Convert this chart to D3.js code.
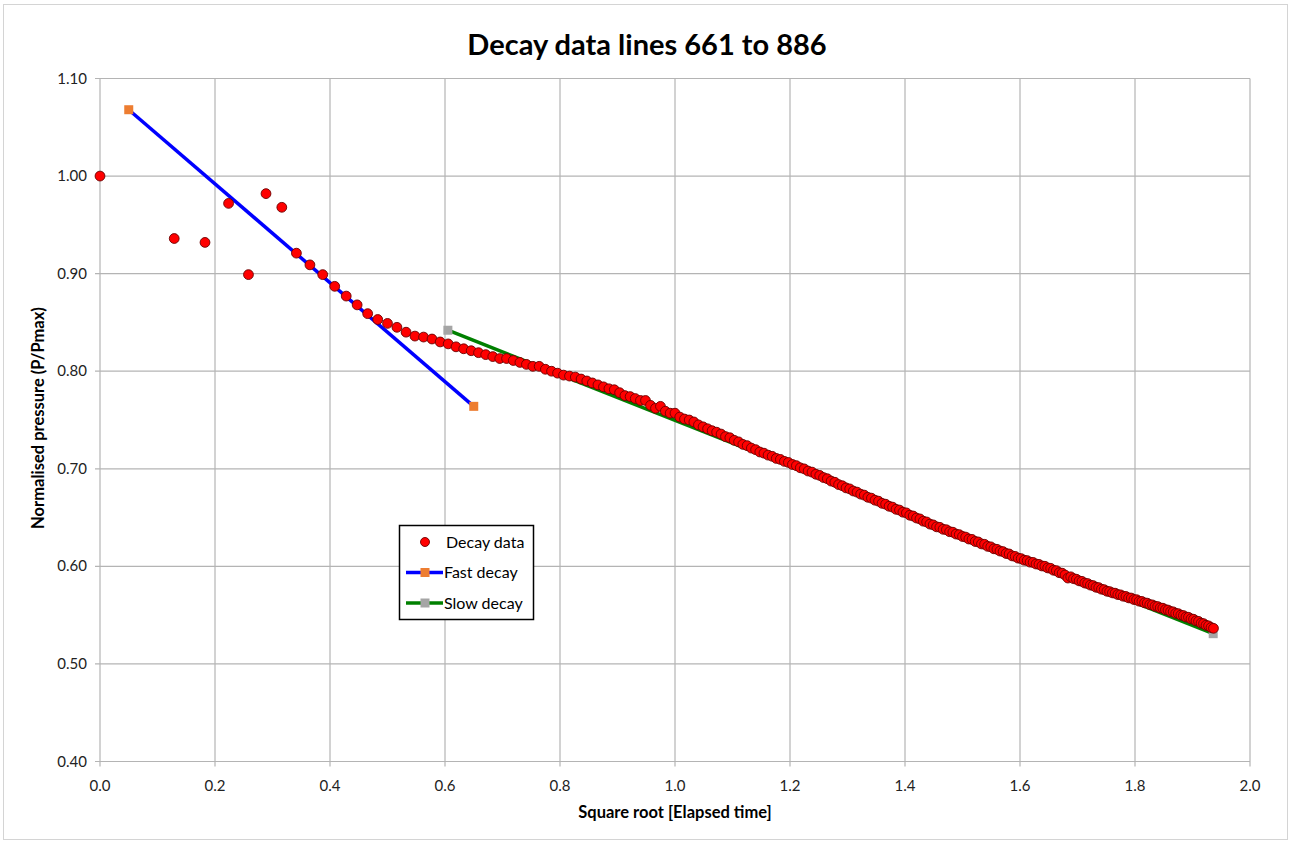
<!DOCTYPE html>
<html>
<head>
<meta charset="utf-8">
<script src="https://cdn.jsdelivr.net/npm/d3@7"></script>
<style>
  body { margin: 0; background: #fff; }
  svg { display: block; font-family: Lato, "Open Sans", sans-serif; }
</style>
</head>
<body>
<svg id="chart" width="1291" height="843"></svg>
<script>
// sqrt of elapsed time (x) and normalised pressure (y), one entry per decay line 661..886
const sqrtTime = [
  0, 0.1291, 0.1826, 0.2236, 0.2582, 0.2887, 0.3162, 0.3416, 0.3651, 0.3873,
  0.4082, 0.4282, 0.4472, 0.4655, 0.4830, 0.5000, 0.5164, 0.5323, 0.5477, 0.5627,
  0.5774, 0.5916, 0.6055, 0.6191, 0.6325, 0.6455, 0.6583, 0.6708, 0.6831, 0.6952,
  0.7071, 0.7188, 0.7303, 0.7416, 0.7528, 0.7638, 0.7746, 0.7853, 0.7958, 0.8062,
  0.8165, 0.8266, 0.8367, 0.8466, 0.8563, 0.8660, 0.8756, 0.8851, 0.8944, 0.9037,
  0.9129, 0.9220, 0.9309, 0.9399, 0.9487, 0.9574, 0.9661, 0.9747, 0.9832, 0.9916,
  1.0000, 1.0083, 1.0165, 1.0247, 1.0328, 1.0408, 1.0488, 1.0567, 1.0646, 1.0724,
  1.0801, 1.0878, 1.0954, 1.1030, 1.1106, 1.1180, 1.1255, 1.1328, 1.1402, 1.1475,
  1.1547, 1.1619, 1.1690, 1.1762, 1.1832, 1.1902, 1.1972, 1.2042, 1.2111, 1.2179,
  1.2247, 1.2315, 1.2383, 1.2450, 1.2517, 1.2583, 1.2649, 1.2715, 1.2780, 1.2845,
  1.2910, 1.2975, 1.3038, 1.3102, 1.3166, 1.3229, 1.3292, 1.3354, 1.3416, 1.3478,
  1.3540, 1.3601, 1.3663, 1.3723, 1.3784, 1.3844, 1.3904, 1.3964, 1.4024, 1.4083,
  1.4142, 1.4201, 1.4260, 1.4318, 1.4376, 1.4434, 1.4491, 1.4549, 1.4606, 1.4663,
  1.4720, 1.4776, 1.4832, 1.4888, 1.4944, 1.5000, 1.5055, 1.5111, 1.5166, 1.5221,
  1.5275, 1.5330, 1.5384, 1.5438, 1.5492, 1.5546, 1.5599, 1.5652, 1.5706, 1.5758,
  1.5811, 1.5864, 1.5916, 1.5969, 1.6021, 1.6073, 1.6125, 1.6176, 1.6228, 1.6279,
  1.6330, 1.6381, 1.6432, 1.6482, 1.6533, 1.6583, 1.6633, 1.6683, 1.6733, 1.6783,
  1.6833, 1.6882, 1.6931, 1.6981, 1.7029, 1.7078, 1.7127, 1.7176, 1.7224, 1.7272,
  1.7321, 1.7369, 1.7416, 1.7464, 1.7512, 1.7559, 1.7607, 1.7654, 1.7701, 1.7748,
  1.7795, 1.7842, 1.7889, 1.7935, 1.7981, 1.8028, 1.8074, 1.8120, 1.8166, 1.8212,
  1.8257, 1.8303, 1.8348, 1.8394, 1.8439, 1.8484, 1.8529, 1.8574, 1.8619, 1.8664,
  1.8708, 1.8753, 1.8797, 1.8841, 1.8886, 1.8930, 1.8974, 1.9018, 1.9061, 1.9105,
  1.9149, 1.9192, 1.9235, 1.9279, 1.9322, 1.9365
];
const pressure = [
  1.000, 0.936, 0.932, 0.972, 0.899, 0.982, 0.968, 0.921, 0.909, 0.899,
  0.887, 0.877, 0.868, 0.859, 0.853, 0.849, 0.845, 0.840, 0.836, 0.835,
  0.833, 0.830, 0.828, 0.825, 0.823, 0.821, 0.819, 0.817, 0.815, 0.813,
  0.813, 0.811, 0.809, 0.807, 0.805, 0.805, 0.802, 0.800, 0.798, 0.796,
  0.795, 0.794, 0.792, 0.790, 0.788, 0.786, 0.784, 0.782, 0.781, 0.778,
  0.775, 0.774, 0.772, 0.770, 0.770, 0.765, 0.762, 0.764, 0.759, 0.757,
  0.757, 0.753, 0.751, 0.750, 0.748, 0.745, 0.743, 0.741, 0.739, 0.7375,
  0.7356, 0.7330, 0.7318, 0.7292, 0.7276, 0.7250, 0.7237, 0.7212, 0.7196, 0.7172,
  0.7160, 0.7140, 0.7128, 0.7106, 0.7096, 0.7076, 0.7065, 0.7044, 0.7032, 0.7010,
  0.6999, 0.6977, 0.6966, 0.6944, 0.6932, 0.6910, 0.6898, 0.6874, 0.6862, 0.6838,
  0.6826, 0.6804, 0.6794, 0.6772, 0.6761, 0.6740, 0.6730, 0.6708, 0.6699, 0.6678,
  0.6668, 0.6646, 0.6637, 0.6616, 0.6607, 0.6585, 0.6577, 0.6555, 0.6548, 0.6524,
  0.6516, 0.6495, 0.6486, 0.6463, 0.6455, 0.6433, 0.6425, 0.6405, 0.6400, 0.6380,
  0.6375, 0.6355, 0.6350, 0.6331, 0.6325, 0.6306, 0.6300, 0.6280, 0.6276, 0.6255,
  0.6250, 0.6230, 0.6226, 0.6205, 0.6200, 0.6180, 0.6175, 0.6157, 0.6151, 0.6132,
  0.6127, 0.6107, 0.6102, 0.6084, 0.6079, 0.6063, 0.6059, 0.6043, 0.6040, 0.6024,
  0.6020, 0.6004, 0.6001, 0.5984, 0.5980, 0.5960, 0.5956, 0.5935, 0.5930, 0.5911,
  0.5880, 0.5893, 0.5874, 0.5868, 0.5851, 0.5846, 0.5829, 0.5824, 0.5808, 0.5803,
  0.5786, 0.5782, 0.5766, 0.5761, 0.5745, 0.5741, 0.5728, 0.5725, 0.5711, 0.5708,
  0.5694, 0.5691, 0.5677, 0.5675, 0.5660, 0.5658, 0.5643, 0.5640, 0.5626, 0.5623,
  0.5608, 0.5605, 0.5591, 0.5588, 0.5574, 0.5571, 0.5556, 0.5552, 0.5537, 0.5534,
  0.5518, 0.5515, 0.5500, 0.5496, 0.5481, 0.5478, 0.5462, 0.5458, 0.5441, 0.5436,
  0.5418, 0.5413, 0.5396, 0.5390, 0.5373, 0.5365
];

// fitted straight lines (end points)
const fastX = [0.05, 0.65];
const fastY = [1.068, 0.764];
const slowX = [0.605, 1.936];
const slowY = [0.842, 0.531];

const xTicks = [0, 0.2, 0.4, 0.6, 0.8, 1.0, 1.2, 1.4, 1.6, 1.8, 2.0];
const yTicks = [0.40, 0.50, 0.60, 0.70, 0.80, 0.90, 1.00, 1.10];

const svg = d3.select("#chart");
const gridColor = "#b4b4b4";

// chart frame
svg.append("rect")
  .attr("x", 3.5).attr("y", 4.5)
  .attr("width", 1284).attr("height", 835)
  .attr("fill", "#fff")
  .attr("stroke", "#d4d4d4");

const x = d3.scaleLinear().domain([0, 2]).range([100, 1250]);
const y = d3.scaleLinear().domain([0.4, 1.1]).range([761.5, 78.5]);

//Gridlines
svg.append("g")
  .selectAll("line.v")
  .data(xTicks)
  .enter()
  .append("line")
  .attr("x1", d => x(d)).attr("x2", d => x(d))
  .attr("y1", y(1.1)).attr("y2", y(0.4) + 5)
  .attr("stroke", gridColor).attr("stroke-width", 1.2);

svg.append("g")
  .selectAll("line.h")
  .data(yTicks)
  .enter()
  .append("line")
  .attr("x1", x(0) - 5).attr("x2", x(2))
  .attr("y1", d => y(d)).attr("y2", d => y(d))
  .attr("stroke", gridColor).attr("stroke-width", 1.2);

//Tick labels
svg.append("g")
  .selectAll("text")
  .data(xTicks)
  .enter()
  .append("text")
  .attr("x", d => x(d))
  .attr("y", 791)
  .attr("text-anchor", "middle")
  .attr("font-size", "15px")
  .attr("fill", "#222")
  .text(d => d3.format(".1f")(d));

svg.append("g")
  .selectAll("text")
  .data(yTicks)
  .enter()
  .append("text")
  .attr("x", 87)
  .attr("y", d => y(d) + 5)
  .attr("text-anchor", "end")
  .attr("font-size", "15px")
  .attr("fill", "#222")
  .text(d => d3.format(".2f")(d));

//Title and axis titles
svg.append("text")
  .attr("x", 647).attr("y", 55)
  .attr("text-anchor", "middle")
  .attr("font-size", "29px")
  .attr("font-weight", "bold")
  .attr("fill", "#000")
  .text("Decay data lines 661 to 886");

svg.append("text")
  .attr("x", 675).attr("y", 818)
  .attr("text-anchor", "middle")
  .attr("font-size", "16.5px")
  .attr("font-weight", "bold")
  .attr("fill", "#000")
  .text("Square root [Elapsed time]");

svg.append("text")
  .attr("transform", "translate(44, 418) rotate(-90)")
  .attr("text-anchor", "middle")
  .attr("font-size", "16.5px")
  .attr("font-weight", "bold")
  .attr("fill", "#000")
  .text("Normalised pressure (P/Pmax)");

//Fitted lines with square end markers
function fitLine(xs, ys, lineColor, markColor) {
  const pts = xs.map((d, i) => [d, ys[i]]);
  svg.append("path")
    .attr("d", d3.line().x(d => x(d[0])).y(d => y(d[1]))(pts))
    .attr("fill", "none")
    .attr("stroke", lineColor)
    .attr("stroke-width", 3.5);
  svg.append("g")
    .selectAll("rect")
    .data(pts)
    .enter()
    .append("rect")
    .attr("x", d => x(d[0]) - 4.5)
    .attr("y", d => y(d[1]) - 4.5)
    .attr("width", 9).attr("height", 9)
    .attr("fill", markColor);
}
fitLine(slowX, slowY, "#008000", "#a5a5a5");
fitLine(fastX, fastY, "#0000ff", "#ed7d31");

//Decay data points
const points = sqrtTime.map((d, i) => ({ s: d, p: pressure[i] }));
svg.append("g")
  .selectAll("circle")
  .data(points)
  .enter()
  .append("circle")
  .attr("cx", d => x(d.s))
  .attr("cy", d => y(d.p))
  .attr("r", 4.9)
  .attr("fill", "#ff0000")
  .attr("stroke", "#6b0000")
  .attr("stroke-width", 0.9);

//Legend
const legend = svg.append("g");
legend.append("rect")
  .attr("x", 399.5).attr("y", 525.5)
  .attr("width", 134).attr("height", 94)
  .attr("fill", "#fff")
  .attr("stroke", "#000")
  .attr("stroke-width", 1.5);

const legendItems = [
  { label: "Decay data", type: "dot" },
  { label: "Fast decay", type: "line", line: "#0000ff", mark: "#ed7d31" },
  { label: "Slow decay", type: "line", line: "#008000", mark: "#a5a5a5" }
];
legendItems.forEach((item, i) => {
  const cy = 542 + i * 30.5;
  if (item.type === "dot") {
    legend.append("circle")
      .attr("cx", 425).attr("cy", cy).attr("r", 4.5)
      .attr("fill", "#ff0000").attr("stroke", "#6b0000").attr("stroke-width", 0.9);
  } else {
    legend.append("line")
      .attr("x1", 406).attr("x2", 443)
      .attr("y1", cy).attr("y2", cy)
      .attr("stroke", item.line).attr("stroke-width", 3.5);
    legend.append("rect")
      .attr("x", 420.5).attr("y", cy - 4.5)
      .attr("width", 9).attr("height", 9)
      .attr("fill", item.mark);
  }
  legend.append("text")
    .attr("x", item.type === "dot" ? 446 : 444)
    .attr("y", cy + 5.5)
    .attr("font-size", "16px")
    .attr("fill", "#000")
    .text(item.label);
});
</script>
</body>
</html>
